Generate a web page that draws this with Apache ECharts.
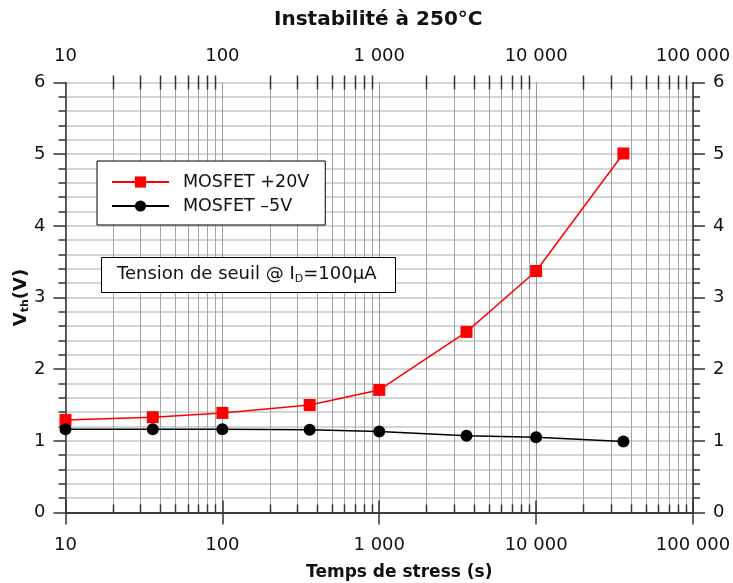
<!DOCTYPE html>
<html>
<head>
<meta charset="utf-8">
<script src="https://cdn.jsdelivr.net/npm/echarts@6/dist/echarts.min.js"></script>
<style>
html,body{margin:0;padding:0;background:#fff;}
#c{width:733px;height:583px;}
</style>
</head>
<body>
<div id="c"></div>
<script>
// ---- data ----
const timeS = [10, 36, 100, 360, 1000, 3600, 10000, 36000];
const vthPlus20 = [1.29, 1.33, 1.39, 1.50, 1.71, 2.52, 3.37, 5.01];
const vthMinus5 = [1.16, 1.16, 1.16, 1.155, 1.13, 1.07, 1.05, 0.99];
const seriesNames = ['MOSFET +20V', 'MOSFET \u20135V'];
const xTickLabels = {10: '10', 100: '100', 1000: '1 000', 10000: '10 000', 100000: '100 000'};
const yTicks = [0, 1, 2, 3, 4, 5, 6];

const FONT = 'DejaVu Sans';
const AX = '#333';

// minor log positions 2..9 in each decade (gridline positions, not data)
const minorLog = [];
for (let d = 10; d < 100000; d *= 10) {
  for (let k = 2; k <= 9; k++) minorLog.push([k * d, 0]);
}

const fmtX = v => xTickLabels[Math.round(v)] !== undefined ? xTickLabels[Math.round(v)] : '';

const chart = echarts.init(document.getElementById('c'));
const baseX = {
  type: 'log', logBase: 10, min: 10, max: 100000,
  axisLine: {show: true, lineStyle: {color: AX, width: 1.5}},
  axisTick: {show: true, length: 12, lineStyle: {color: AX, width: 1.5}},
  axisLabel: {fontFamily: FONT, fontSize: 18, color: '#111', formatter: fmtX},
};
const baseY = {
  type: 'value', min: yTicks[0], max: yTicks[yTicks.length - 1], interval: 1,
  axisLine: {show: true, lineStyle: {color: AX, width: 1.5}},
  axisTick: {show: true, length: 12, lineStyle: {color: AX, width: 1.5}},
  minorTick: {show: true, splitNumber: 5, length: 7, lineStyle: {color: AX, width: 1.5}},
  axisLabel: {fontFamily: FONT, fontSize: 18, color: '#111', margin: 20},
};

chart.setOption({
  animation: false,
  backgroundColor: '#fff',
  title: [
    {
      text: 'Instabilité à 250°C', left: 269, top: 5,
      textStyle: {fontFamily: FONT, fontSize: 20, fontWeight: 'bold', color: '#111'}
    },
    {
      text: '{n|Tension de seuil @ I}{s|D}{n|=100µA}',
      left: 101, top: 255,
      padding: [8, 19, 8, 16],
      borderColor: '#000', borderWidth: 1, backgroundColor: '#fff',
      textStyle: {
        fontWeight: 'normal',
        rich: {
          n: {fontFamily: FONT, fontSize: 18, fontWeight: 'normal', color: '#111', lineHeight: 22},
          s: {fontFamily: FONT, fontSize: 11, fontWeight: 'normal', color: '#111', verticalAlign: 'bottom', lineHeight: 18}
        }
      }
    }
  ],
  legend: {
    data: seriesNames,
    orient: 'vertical', left: 97, top: 161,
    padding: [12, 16, 10, 14],
    itemWidth: 57, itemHeight: 14, itemGap: 6,
    borderColor: '#000', borderWidth: 1, backgroundColor: '#fff',
    textStyle: {fontFamily: FONT, fontSize: 17.5, color: '#111', padding: [0, 0, 0, 9]}
  },
  grid: {left: 65.5, right: 40, top: 82.5, bottom: 70.5, containLabel: false, outerBoundsMode: 'none'},
  xAxis: [
    Object.assign({}, baseX, {
      position: 'bottom',
      axisLabel: Object.assign({}, baseX.axisLabel, {margin: 24}),
      splitLine: {show: true, lineStyle: {color: '#999', width: 1}},
      name: 'Temps de stress (s)', nameLocation: 'middle', nameGap: 52, nameMoveOverlap: false,
      nameTextStyle: {fontFamily: FONT, fontSize: 17, fontWeight: 'bold', color: '#111', padding: [0, 0, 0, 40]}
    }),
    Object.assign({}, baseX, {
      position: 'top',
      axisLabel: Object.assign({}, baseX.axisLabel, {margin: 17}),
      splitLine: {show: false}
    })
  ],
  yAxis: [
    Object.assign({}, baseY, {
      position: 'left',
      splitLine: {show: true, lineStyle: {color: '#c8c8c8', width: 1.5}},
      minorSplitLine: {show: true, lineStyle: {color: '#c8c8c8', width: 1.5}},
      name: '{v|V}{s|th}{v|(V)}', nameLocation: 'middle', nameGap: 35, nameRotate: 90, nameMoveOverlap: false,
      nameTextStyle: {
        rich: {
          v: {fontFamily: FONT, fontSize: 18, fontWeight: 'bold', color: '#111'},
          s: {fontFamily: FONT, fontSize: 11, fontWeight: 'bold', color: '#111', verticalAlign: 'bottom'}
        }
      }
    }),
    Object.assign({}, baseY, {
      position: 'right',
      splitLine: {show: false}
    })
  ],
  series: [
    {
      type: 'custom', name: 'minorGrid', xAxisIndex: 0, yAxisIndex: 0, z: 1, silent: true,
      data: minorLog, encode: {x: 0, y: 1},
      renderItem: function (params, api) {
        const v = api.value(0);
        const b = api.coord([v, yTicks[0]]);
        const t = api.coord([v, yTicks[yTicks.length - 1]]);
        const x = Math.round(b[0]) + 0.5;
        return {
          type: 'group', children: [
            {type: 'line', shape: {x1: x, y1: b[1], x2: x, y2: t[1]}, style: {stroke: '#a3a3a3', lineWidth: 1}},
            {type: 'line', shape: {x1: x, y1: b[1], x2: x, y2: b[1] - 8}, style: {stroke: AX, lineWidth: 1.5}},
            {type: 'line', shape: {x1: x, y1: t[1] - 7, x2: x, y2: t[1] + 7}, style: {stroke: AX, lineWidth: 1.5}}
          ]
        };
      }
    },
    {
      name: seriesNames[0], type: 'line', z: 3,
      data: timeS.map((t, i) => [t, vthPlus20[i]]),
      symbol: 'rect', symbolSize: 12, showAllSymbol: true,
      itemStyle: {color: '#ff0000'}, lineStyle: {color: '#ff0000', width: 1.5}
    },
    {
      name: seriesNames[1], type: 'line', z: 3,
      data: timeS.map((t, i) => [t, vthMinus5[i]]),
      symbol: 'circle', symbolSize: 12, showAllSymbol: true,
      itemStyle: {color: '#000'}, lineStyle: {color: '#000', width: 1.5}
    }
  ]
});
</script>
</body>
</html>
